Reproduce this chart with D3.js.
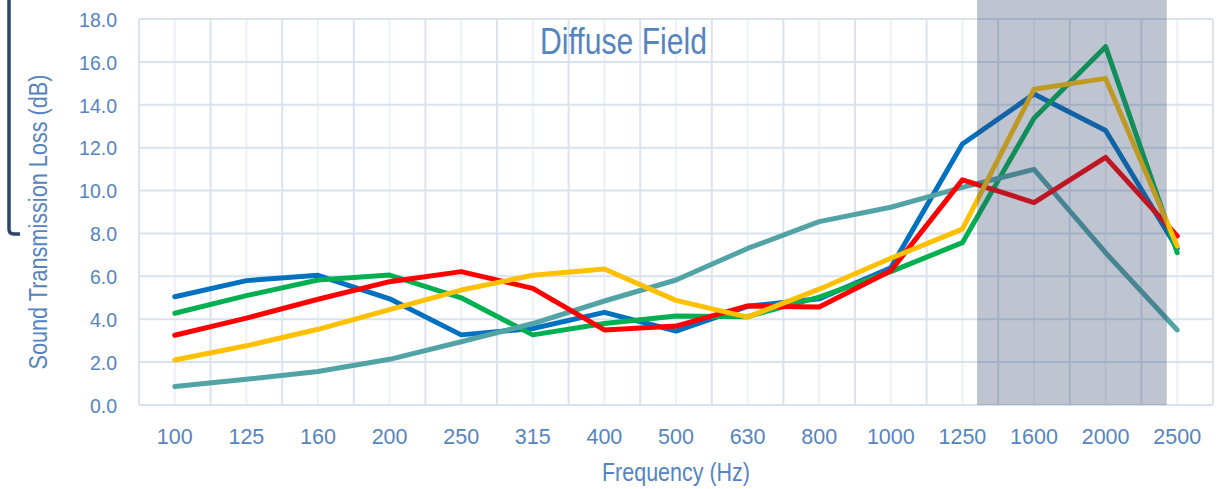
<!DOCTYPE html>
<html>
<head>
<meta charset="utf-8">
<script src="https://cdn.jsdelivr.net/npm/d3@7"></script>
<style>
  html, body { margin: 0; padding: 0; background: #ffffff; }
  svg { display: block; }
  text { font-family: "Liberation Sans", Arial, sans-serif; }
</style>
</head>
<body>
<svg id="chart" width="1221" height="489"></svg>
<script>
// ---- data ----
const categories = ["100","125","160","200","250","315","400","500","630","800","1000","1250","1600","2000","2500"];
const seriesBlue   = [5.05, 5.80, 6.05, 4.95, 3.27, 3.57, 4.32, 3.45, 4.60, 4.95, 6.40, 12.17, 14.50, 12.80, 7.30];
const seriesGreen  = [4.28, 5.10, 5.83, 6.06, 5.00, 3.27, 3.80, 4.15, 4.12, 5.03, 6.22, 7.57, 13.37, 16.71, 7.10];
const seriesTeal   = [0.86, 1.20, 1.56, 2.13, 2.95, 3.80, 4.85, 5.83, 7.30, 8.55, 9.22, 10.15, 10.99, 7.10, 3.50];
const seriesRed    = [3.25, 4.05, 4.93, 5.75, 6.22, 5.44, 3.50, 3.68, 4.62, 4.57, 6.26, 10.50, 9.44, 11.55, 7.88];
const seriesYellow = [2.10, 2.76, 3.53, 4.45, 5.36, 6.05, 6.34, 4.88, 4.10, 5.40, 6.84, 8.20, 14.72, 15.23, 7.42];
const yTicks = [0, 2, 4, 6, 8, 10, 12, 14, 16, 18];
const yTickLabels = yTicks.map(v => v.toFixed(1));
const shadeRange = [1315, 2420]; // Hz, highlighted band
const titleText = "Diffuse Field";
const xTitle = "Frequency (Hz)";
const yTitle = "Sound Transmission Loss (dB)";

const series = [
  { values: seriesBlue,   color: "#0070c0" },
  { values: seriesGreen,  color: "#00b050" },
  { values: seriesTeal,   color: "#52a3a5" },
  { values: seriesRed,    color: "#ff0000" },
  { values: seriesYellow, color: "#ffc000" }
];

// ---- layout ----
const svg = d3.select("#chart");
const plot = { left: 139, right: 1213, top: 19, bottom: 405 };
const textColor = "#5584c0";

const x = d3.scaleBand().domain(categories).range([plot.left, plot.right]).paddingInner(0).paddingOuter(0);
const step = x.step();
const cx = c => x(c) + x.bandwidth() / 2;
const y = d3.scaleLinear().domain([0, 18]).range([plot.bottom, plot.top]);

// frequency -> x, log interpolation between category centres
function freqX(f) {
  const nums = categories.map(Number);
  for (let i = 0; i < nums.length - 1; i++) {
    if (f >= nums[i] && f <= nums[i + 1]) {
      const t = Math.log(f / nums[i]) / Math.log(nums[i + 1] / nums[i]);
      return cx(categories[i]) + t * step;
    }
  }
  return cx(categories[categories.length - 1]);
}

// ---- grid ----
const grid = svg.append("g");
grid.selectAll("line.minor").data(categories).enter().append("line")
  .attr("x1", d => cx(d)).attr("x2", d => cx(d))
  .attr("y1", y(18)).attr("y2", y(0))
  .attr("stroke", "#edf1f8").attr("stroke-width", 2);
const bounds = categories.map(c => x(c)).concat([x(categories[categories.length - 1]) + step]);
grid.selectAll("line.major").data(bounds).enter().append("line")
  .attr("x1", d => d).attr("x2", d => d)
  .attr("y1", y(18)).attr("y2", y(0))
  .attr("stroke", "#dbe3f0").attr("stroke-width", 2);
grid.selectAll("line.h").data(yTicks).enter().append("line")
  .attr("x1", plot.left).attr("x2", plot.right)
  .attr("y1", d => y(d)).attr("y2", d => y(d))
  .attr("stroke", "#d9e2ef").attr("stroke-width", 2);

// ---- y tick labels ----
svg.append("g").selectAll("text").data(yTicks).enter().append("text")
  .attr("x", 117).attr("y", d => y(d)).attr("dy", "0.4em")
  .attr("text-anchor", "end")
  .attr("font-size", "19.5px").attr("fill", textColor)
  .text((d, i) => yTickLabels[i]);

// ---- x tick labels ----
svg.append("g").selectAll("text").data(categories).enter().append("text")
  .attr("x", d => cx(d)).attr("y", 443.5)
  .attr("text-anchor", "middle")
  .attr("font-size", "21.5px").attr("fill", textColor)
  .text(d => d);

// ---- lines ----
const line = d3.line().x((d, i) => cx(categories[i])).y(d => y(d));
svg.append("g").selectAll("path").data(series).enter().append("path")
  .attr("d", d => line(d.values))
  .attr("fill", "none")
  .attr("stroke", d => d.color)
  .attr("stroke-width", 5)
  .attr("stroke-linejoin", "round")
  .attr("stroke-linecap", "round");

// ---- shaded band (overlay) ----
svg.append("rect")
  .attr("x", freqX(shadeRange[0]))
  .attr("y", 0)
  .attr("width", freqX(shadeRange[1]) - freqX(shadeRange[0]))
  .attr("height", y(0))
  .attr("fill", "rgb(52,70,108)")
  .attr("fill-opacity", 0.32);

// ---- titles ----
svg.append("text")
  .attr("x", 623.5).attr("y", 54)
  .attr("text-anchor", "middle")
  .attr("font-size", "36px").attr("fill", textColor)
  .attr("textLength", 167).attr("lengthAdjust", "spacingAndGlyphs")
  .text(titleText);

svg.append("text")
  .attr("x", (plot.left + plot.right) / 2).attr("y", 480.5)
  .attr("text-anchor", "middle")
  .attr("font-size", "26.5px").attr("fill", textColor)
  .attr("textLength", 148).attr("lengthAdjust", "spacingAndGlyphs")
  .text(xTitle);

svg.append("text")
  .attr("transform", "translate(47,222) rotate(-90)")
  .attr("text-anchor", "middle")
  .attr("font-size", "26.5px").attr("fill", textColor)
  .attr("textLength", 295).attr("lengthAdjust", "spacingAndGlyphs")
  .text(yTitle);

// ---- bracket at left ----
svg.append("path")
  .attr("d", "M9,0 L9,229 Q9,234 14,234 L20,234")
  .attr("fill", "none")
  .attr("stroke", "#2b4566")
  .attr("stroke-width", 3.5);
</script>
</body>
</html>
